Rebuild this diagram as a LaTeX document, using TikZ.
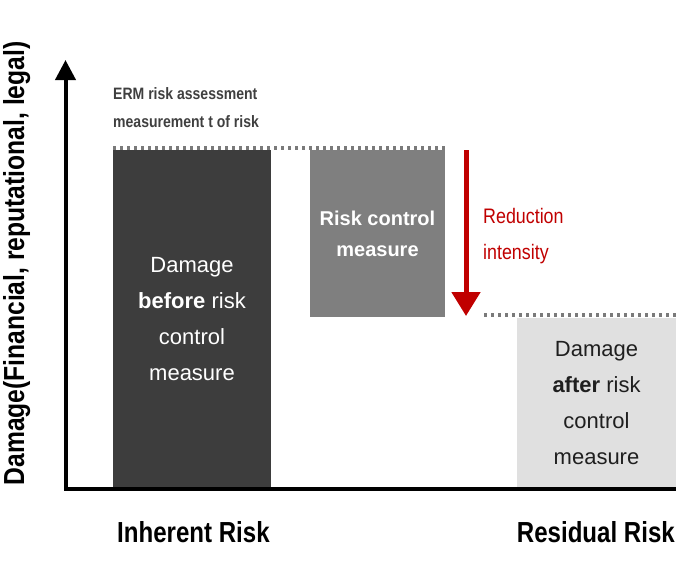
\documentclass[tikz,border=0pt]{standalone}
\usepackage{fontspec}
\setmainfont{Liberation Sans}
\newfontfamily\condf[FakeStretch=0.85]{Liberation Sans}
\newfontfamily\condg[FakeStretch=0.83]{Liberation Sans}
\usetikzlibrary{arrows.meta}
\definecolor{darkbox}{HTML}{3D3D3D}
\definecolor{midbox}{HTML}{7F7F7F}
\definecolor{lightbox}{HTML}{E0E0E0}
\definecolor{dotgray}{HTML}{7A7A7A}
\definecolor{ermgray}{HTML}{3F3F3F}
\definecolor{redarrow}{HTML}{C00000}
\tikzset{
  riskbox/.style={anchor=north west, inner sep=0pt, outer sep=0pt, align=center},
  boxtext/.style={font=\fontsize{22}{36}\selectfont},
  dotline/.style={draw=dotgray, line width=3.4pt, dash pattern=on 3.4pt off 3.6pt},
  axis/.style={line width=4pt, line join=miter},
  bigcond/.style={font=\condf\bfseries\fontsize{29}{34}\selectfont},
  catlab/.style={font=\condg\bfseries\fontsize{29}{34}\selectfont},
}
\begin{document}
\begin{tikzpicture}[x=1pt,y=-1pt]
\useasboundingbox (0,0) rectangle (676,581);

% boxes
\node[riskbox, fill=darkbox, text=white, minimum width=158pt, minimum height=338pt, boxtext] (inh) at (113,150)
  {\rule{0pt}{4pt}Damage\\\textbf{before} risk\\control\\measure};
\node[riskbox, fill=midbox, text=white, minimum width=135pt, minimum height=167pt,
  font=\bfseries\fontsize{20}{31}\selectfont] (ctl) at (310,150)
  {Risk control\\measure};
\node[riskbox, fill=lightbox, text=black!88, minimum width=159pt, minimum height=170pt, boxtext] (res) at (517,318)
  {\rule{0pt}{4pt}Damage\\\textbf{after} risk\\control\\measure};

% dotted level lines
\draw[dotline] ([yshift=2pt]inh.north west) -- ([yshift=2pt]ctl.north east);
\coordinate (l1) at (484,315);
\coordinate (l2) at (676,315);
\draw[dotline] (l1) -- (l2);

% axes
\coordinate (ytip) at (65.5,60);
\coordinate (orig) at (65.5,489);
\coordinate (xend) at (676,489);
\draw[axis, {Triangle[width=20pt,length=20pt]}-] (ytip) -- (orig) -- (xend);

% reduction arrow
\coordinate (ra) at (466,150);
\coordinate (rb) at (466,316);
\draw[redarrow, line width=5pt, -{Triangle[width=28pt,length=24pt]}] (ra) -- (rb);
\node[anchor=base west, inner sep=0pt, text=redarrow, font=\condf\fontsize{21}{36}\selectfont, align=left] (redtxt) at (483,259)
  {Reduction\\intensity};

% ERM label
\node[anchor=base west, inner sep=0pt, text=ermgray, font=\condf\bfseries\fontsize{16.5}{28}\selectfont, align=left] (erm) at (113,127)
  {ERM risk assessment\\measurement t of risk};

% axis labels
\node[anchor=base west, inner sep=0pt, catlab] (inhlab) at (117,542) {Inherent Risk};
\node[anchor=base east, inner sep=0pt, catlab] (reslab) at (675,542) {Residual Risk};
\node[anchor=base, inner sep=0pt, rotate=90, bigcond] (ylab) at (24,263.5) {Damage(Financial, reputational, legal)};
\end{tikzpicture}
\end{document}
